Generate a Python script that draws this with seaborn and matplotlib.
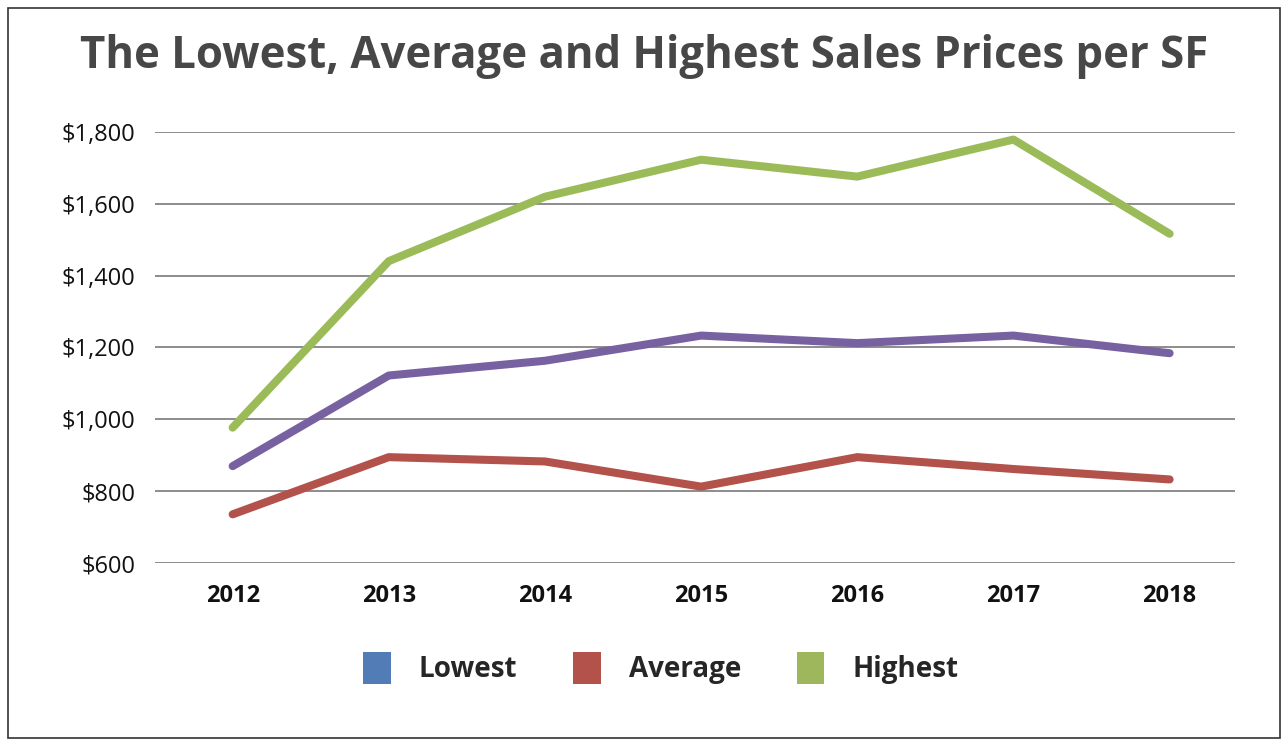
import matplotlib
matplotlib.use("Agg")
import matplotlib.pyplot as plt
from matplotlib.patches import Patch, Rectangle
import seaborn as sns
import pandas as pd

years = [2012, 2013, 2014, 2015, 2016, 2017, 2018]
lowest = [870, 1122, 1163, 1233, 1212, 1233, 1184]
average = [736, 895, 883, 813, 895, 862, 833]
highest = [977, 1440, 1619, 1722, 1675, 1778, 1516]

series_names = ["Lowest", "Average", "Highest"]
line_colors = ["#7761A0", "#B3514B", "#9BBB59"]
legend_colors = ["#517CB5", "#B3514B", "#9EB75C"]

df = pd.DataFrame({"Year": years, "Lowest": lowest, "Average": average, "Highest": highest})
df_long = df.melt(id_vars="Year", var_name="Series", value_name="Price")

sns.set_style("white")
plt.rcParams['font.family'] = ['Open Sans', 'DejaVu Sans']

fig = plt.figure(figsize=(12.88, 7.48), dpi=100)
ax = fig.add_axes([0.12, 0.247, 0.839, 0.577])

sns.lineplot(data=df_long, x="Year", y="Price", hue="Series", hue_order=series_names,
             palette=line_colors, linewidth=5.8, solid_capstyle="round", legend=False, ax=ax)

ax.set_ylim(600, 1800)
ax.set_xlim(2011.5, 2018.42)
ax.set_yticks([600, 800, 1000, 1200, 1400, 1600, 1800])
ax.set_yticklabels(["${:,}".format(v) for v in [600, 800, 1000, 1200, 1400, 1600, 1800]])
ax.set_xticks(years)
ax.set_xticklabels([str(y) for y in years], fontweight="bold")

for s in ax.spines.values():
    s.set_visible(False)
ax.tick_params(axis="both", length=0, labelsize=17, colors="#111111")
ax.tick_params(axis="y", pad=14)
ax.tick_params(axis="x", pad=15)
ax.grid(axis="y", color="#8c8c8c", linewidth=1.4)
ax.set_axisbelow(True)
ax.set_xlabel("")
ax.set_ylabel("")

fig.text(0.5, 0.925, "The Lowest, Average and Highest Sales Prices per SF",
         ha="center", va="center", fontsize=31.5, fontweight="bold", color="#474747")

handles = [Patch(facecolor=c, edgecolor="none") for c in legend_colors]
leg = fig.legend(handles, series_names, loc="center", bbox_to_anchor=(0.513, 0.107), ncol=3,
                 frameon=False, prop={"weight": "bold", "size": 20},
                 handlelength=1.0, handleheight=1.4, handletextpad=1.0, columnspacing=2.0)

fig.patches.append(Rectangle((8 / 1288, 10 / 748), 1272 / 1288, 730 / 748, transform=fig.transFigure,
                             fill=False, edgecolor="#333333", linewidth=1.2))

fig.savefig("out.png", dpi=100)
